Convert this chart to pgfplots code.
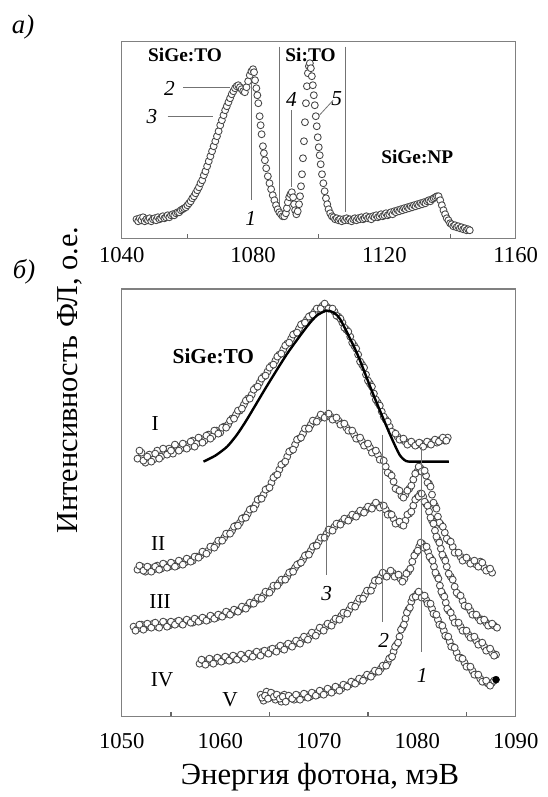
\documentclass[border=0pt]{standalone}
\usepackage{fontspec}
\setmainfont{Liberation Serif}
\usepackage{pgfplots}
\pgfplotsset{compat=1.18}

\pgfplotsset{
  plbox/.style={scale only axis, width=295.5pt,
    axis line style={draw=black!50, line width=1.1pt},
    ytick=\empty, tick align=inside, xtick pos=bottom,
    major tick length=0pt, minor tick length=3.5pt,
    minor tick style={draw=black!60, line width=0.8pt},
    xticklabel style={font=\fontsize{17}{17}\selectfont},
    clip=false},
  pts/.style={only marks, mark=*, mark size=2.6pt,
    mark options={draw=black!72, fill=white, line width=0.65pt}},
}
\tikzset{
  vline/.style={draw=black!55, line width=0.6pt},
  bl/.style={font=\fontsize{14.5}{15}\selectfont\bfseries},
  it/.style={font=\fontsize{16}{16}\selectfont\itshape},
  rn/.style={font=\fontsize{16}{16}\selectfont},
}

\begin{document}
\begin{tikzpicture}
\useasboundingbox (0pt,0pt) rectangle (410.25pt,-597.75pt);

% panel a
\begin{axis}[plbox, at={(91.3pt,-178.7pt)}, anchor=south west, height=147.5pt,
  xmin=1040, xmax=1160, ymin=0, ymax=196.6,
  xtick={1040,1080,1120,1160}, xticklabels={1040,1080,1120,1160},
  minor xtick={1060,1100,1140}, xticklabel style={yshift=-3pt}]
\addplot[pts] coordinates {
(1044.5,19)(1045,17)(1045.5,20)(1046,18)(1046.5,21)(1047,17)(1047.5,19)(1048,18)(1048.5,20)(1049,17)
(1049.5,19)(1050,20)(1050.5,18)(1051,21)(1051.5,19)(1052,20)(1052.5,22)(1053,20)(1053.5,21)(1054,23)
(1054.5,21)(1055,23)(1055.5,24)(1056,23)(1056.5,25)(1057,26)(1057.5,26)(1058,28)(1058.5,29)(1059,30)
(1059.5,31)(1060,33)(1060.5,35)(1061,37)(1061.5,40)(1062,42)(1062.5,45)(1063,48)(1063.5,51)(1064,55)
(1064.5,58)(1065,63)(1065.5,67)(1066,72)(1066.5,77)(1067,82)(1067.5,87)(1068,92)(1068.5,97)(1069,102)
(1069.5,107)(1070,113)(1070.5,118)(1071,123)(1071.5,128)(1072,132)(1072.5,136)(1073,140)(1073.5,144)(1074,147)
(1074.5,150)(1075,152)(1075.5,153)(1076,151)(1076.5,149)(1077,147)(1077.5,146)(1078,151)(1078.5,157)(1079,163)
(1079.5,167)(1080,169)(1080.3,166)(1080.6,158)(1081,150)(1081.3,143)(1081.6,135)(1082,122)(1082.3,113)(1082.6,104)
(1083,92)(1083.3,85)(1083.6,78)(1084,70)(1084.5,62)(1085,55)(1085.5,49)(1086,43)(1086.5,38)(1087,33)
(1087.5,29)(1088,26)(1088.5,24)(1089,22)(1089.5,22)(1090,25)(1090.3,30)(1090.6,36)(1091,41)(1091.4,44)
(1091.8,46)(1092.2,41)(1092.5,34)(1092.8,28)(1093.2,24)(1093.6,27)(1094,34)(1094.3,42)(1094.6,52)(1094.9,64)
(1095.2,80)(1095.5,97)(1095.8,116)(1096.1,135)(1096.4,152)(1096.7,165)(1097,172)(1097.3,175)(1097.6,170)(1097.9,162)
(1098.2,153)(1098.5,143)(1098.8,133)(1099.1,122)(1099.4,112)(1099.7,101)(1100,91)(1100.3,83)(1100.6,74)(1101,64)
(1101.4,55)(1101.8,47)(1102.2,40)(1102.6,34)(1103,29)(1103.5,25)(1104,22)(1104.5,21)(1105,19)(1105.5,20)
(1106,18)(1106.5,19)(1107,17)(1107.5,19)(1108,18)(1108.5,20)(1109,18)(1109.5,19)(1110,17)(1110.5,19)
(1111,20)(1111.5,18)(1112,20)(1112.5,19)(1113,21)(1113.5,19)(1114,20)(1114.5,22)(1115,20)(1115.5,21)
(1116,19)(1116.5,22)(1117,21)(1117.5,23)(1118,21)(1118.5,22)(1119,24)(1119.5,22)(1120,23)(1120.5,25)
(1121,23)(1121.5,24)(1122,26)(1122.5,24)(1123,27)(1123.5,26)(1124,28)(1124.5,27)(1125,29)(1125.5,28)
(1126,30)(1126.5,29)(1127,31)(1127.5,30)(1128,32)(1128.5,31)(1129,33)(1129.5,32)(1130,34)(1130.5,33)
(1131,35)(1131.5,34)(1132,36)(1132.5,35)(1133,37)(1133.5,38)(1134,37)(1134.5,39)(1135,40)(1135.5,41)
(1136,42)(1136.5,42)(1137,38)(1137.5,33)(1138,28)(1138.5,24)(1139,20)(1139.5,18)(1140,15)(1140.5,14)
(1141,12)(1141.5,13)(1142,11)(1142.5,12)(1143,10)(1143.5,11)(1144,9)(1144.5,10)(1145,8)(1145.5,9)(1146,8)
};
\draw[vline] (axis cs:1079.5,158) -- (axis cs:1079.5,38);
\draw[vline] (axis cs:1088,191.6) -- (axis cs:1088,25);
\draw[vline] (axis cs:1108.2,191.6) -- (axis cs:1108.2,26);
\draw[vline] (axis cs:1091.7,128) -- (axis cs:1091.7,51);
\draw[vline] (axis cs:1058.7,151) -- (axis cs:1073.1,151);
\draw[vline] (axis cs:1054,122.3) -- (axis cs:1067.8,122.3);
\draw[vline] (axis cs:1104.4,138) -- (axis cs:1100.2,123);
\node[bl] at (axis cs:1059.3,183.3) {SiGe:TO};
\node[bl] at (axis cs:1097.5,183.3) {Si:TO};
\node[bl] at (axis cs:1130,81.3) {SiGe:NP};
\node[it] at (axis cs:1054.5,150) {2};
\node[it] at (axis cs:1049.2,121.6) {3};
\node[it] at (axis cs:1091.7,138.3) {4};
\node[it] at (axis cs:1105.5,140) {5};
\node[it] at (axis cs:1079.3,20) {1};
\end{axis}

% panel b
\begin{axis}[plbox, at={(91.3pt,-537.5pt)}, anchor=south west, height=320.6pt,
  xmin=1050, xmax=1090, ymin=0, ymax=427.4, clip mode=individual,
  xtick={1050,1060,1070,1080,1090}, xticklabels={1050,1060,1070,1080,1090},
  minor xtick={1055,1065,1075,1085},
  xticklabel style={yshift=-9pt}]
% I
\addplot[pts] coordinates {
(1051.6,258)(1052.0,264)(1052.4,254)(1052.8,262)(1053.2,257)(1053.6,266)(1054.0,260)(1054.4,265)(1054.8,268)(1055.2,263)
(1055.6,270)(1056.0,268)(1056.4,272)(1056.8,270)(1057.2,276)(1057.6,273)(1058.0,278)(1058.4,276)(1058.8,282)(1059.2,280)
(1059.6,286)(1060.0,284)(1060.4,290)(1060.8,292)(1061.2,298)(1061.6,302)(1062.0,306)(1062.4,312)(1062.8,318)(1063.2,322)
(1063.6,329)(1064.0,334)(1064.4,340)(1064.8,345)(1065.2,351)(1065.6,356)(1066.0,362)(1066.4,367)(1066.8,373)(1067.2,378)
(1067.6,383)(1068.0,388)(1068.4,393)(1068.8,397)(1069.2,401)(1069.6,405)(1070.0,408)(1070.4,411)(1070.8,410)(1071.2,408)
(1071.6,405)(1072.0,400)(1072.4,394)(1072.8,387)(1073.2,380)(1073.6,371)(1074.0,362)(1074.4,352)(1074.8,342)(1075.2,333)
(1075.6,323)(1076.0,314)(1076.4,305)(1076.8,297)(1077.2,290)(1077.6,284)(1078.0,280)(1078.4,277)(1078.8,275)(1079.2,274)
(1079.6,273)(1080.0,272)(1080.4,273)(1080.8,272)(1081.2,274)(1081.6,275)(1082.0,274)(1082.4,277)(1082.8,276)(1083.1,279)
(1051.8,266)(1052.2,256)(1052.6,260)(1053.0,255)(1053.4,263)(1053.8,258)(1054.2,268)(1054.6,262)(1055.0,266)(1055.4,272)
(1055.8,266)(1056.2,273)(1056.6,268)(1057.0,275)(1057.4,270)(1057.8,279)(1058.2,274)(1058.6,281)(1059.0,278)(1059.4,286)
(1059.8,283)(1060.2,289)(1060.6,289)(1061.0,296)(1061.4,298)(1061.8,306)(1062.2,308)(1062.6,316)(1063.0,318)(1063.4,327)
(1063.8,330)(1064.2,338)(1064.6,341)(1065.0,349)(1065.4,352)(1065.8,360)(1066.2,363)(1066.6,371)(1067.0,374)(1067.4,382)
(1067.8,384)(1068.2,392)(1068.6,394)(1069.0,400)(1069.4,402)(1069.8,408)(1070.2,408)(1070.6,413)(1071.0,408)(1071.4,408)
(1071.8,401)(1072.2,398)(1072.6,389)(1073.0,385)(1073.4,374)(1073.8,368)(1074.2,355)(1074.6,349)(1075.0,336)(1075.4,330)
(1075.8,317)(1076.2,311)(1076.6,300)(1077.0,295)(1077.4,285)(1077.8,283)(1078.2,277)(1078.6,278)(1079.0,272)(1079.4,275)
(1079.8,271)(1080.2,274)(1080.6,270)(1081.0,275)(1081.4,272)(1081.8,277)(1082.2,275)(1082.6,279)(1082.95,276)
};
% II
\addplot[pts] coordinates {
(1051.6,147)(1052.0,150)(1052.4,145)(1052.8,149)(1053.2,147)(1053.6,151)(1054.0,148)(1054.4,152)(1054.8,150)(1055.2,153)
(1055.6,151)(1056.0,155)(1056.4,154)(1056.8,157)(1057.2,156)(1057.6,160)(1058.0,161)(1058.4,164)(1058.8,166)(1059.2,170)
(1059.6,172)(1060.0,176)(1060.4,179)(1060.8,183)(1061.2,186)(1061.6,191)(1062.0,194)(1062.4,199)(1062.8,203)(1063.2,208)
(1063.6,212)(1064.0,218)(1064.4,222)(1064.8,228)(1065.2,234)(1065.6,241)(1066.0,247)(1066.4,253)(1066.8,260)(1067.2,266)
(1067.6,272)(1068.0,278)(1068.4,283)(1068.8,288)(1069.2,292)(1069.6,295)(1070.0,298)(1070.4,300)(1070.8,301)(1071.2,300)
(1071.6,298)(1072.0,296)(1072.4,293)(1072.8,289)(1073.2,286)(1073.6,282)(1074.0,278)(1074.4,275)(1074.8,272)(1075.2,269)
(1075.6,265)(1076.0,262)(1076.4,257)(1076.8,250)(1077.2,243)(1077.6,235)(1078.0,227)(1078.4,221)(1078.8,222)(1079.2,228)
(1079.6,237)(1080.0,245)(1080.3,249)(1080.6,246)(1080.9,241)(1081.2,233)(1081.5,222)(1081.8,211)(1082.1,200)(1082.4,192)
(1082.8,184)(1083.2,176)(1083.6,170)(1084.0,164)(1084.4,160)(1084.8,158)(1085.2,156)(1085.6,154)(1086.0,152)(1086.4,155)
(1086.8,149)(1087.2,147)(1087.6,144)
(1051.8,151)(1052.2,146)(1052.6,150)(1053.0,145)(1053.4,150)(1053.8,147)(1054.2,153)(1054.6,149)(1055.0,154)(1055.4,150)
(1055.8,156)(1056.2,152)(1056.6,158)(1057.0,155)(1057.4,160)(1057.8,159)(1058.2,165)(1058.6,163)(1059.0,170)(1059.4,169)
(1059.8,176)(1060.2,176)(1060.6,183)(1061.0,183)(1061.4,190)(1061.8,191)(1062.2,198)(1062.6,199)(1063.0,207)(1063.4,208)
(1063.8,217)(1064.2,218)(1064.6,227)(1065.0,229)(1065.4,239)(1065.8,242)(1066.2,252)(1066.6,255)(1067.0,265)(1067.4,267)
(1067.8,277)(1068.2,279)(1068.6,288)(1069.0,288)(1069.4,296)(1069.8,295)(1070.2,302)(1070.6,299)(1071.0,303)(1071.4,297)
(1071.8,299)(1072.2,292)(1072.6,293)(1073.0,286)(1073.4,286)(1073.8,278)(1074.2,279)(1074.6,271)(1075.0,273)(1075.4,264)
(1075.8,266)(1076.2,257)(1076.6,256)(1077.0,244)(1077.4,241)(1077.8,228)(1078.2,226)(1078.6,219)(1079.0,226)(1079.4,231)
(1079.8,243)(1080.15,250)(1080.45,245)(1080.75,246)(1081.05,234)(1081.35,230)(1081.65,214)(1081.95,208)(1082.25,194)(1082.6,190)
(1083.0,178)(1083.4,175)(1083.8,164)(1084.2,164)(1084.6,156)(1085.0,159)(1085.4,153)(1085.8,156)(1086.2,150)(1086.6,154)
(1087.0,146)(1087.4,148)
};
% III
\addplot[pts] coordinates {
(1051.2,90)(1051.6,88)(1052.0,92)(1052.4,89)(1052.8,91)(1053.2,93)(1053.6,90)(1054.0,92)(1054.4,94)(1054.8,91)
(1055.2,93)(1055.6,95)(1056.0,93)(1056.4,95)(1056.8,96)(1057.2,94)(1057.6,97)(1058.0,96)(1058.4,98)(1058.8,97)
(1059.2,100)(1059.6,99)(1060.0,101)(1060.4,102)(1060.8,104)(1061.2,104)(1061.6,106)(1062.0,107)(1062.4,109)(1062.8,111)
(1063.2,113)(1063.6,116)(1064.0,118)(1064.4,121)(1064.8,124)(1065.2,127)(1065.6,131)(1066.0,134)(1066.4,137)(1066.8,140)
(1067.2,145)(1067.6,149)(1068.0,153)(1068.4,157)(1068.8,162)(1069.2,166)(1069.6,171)(1070.0,175)(1070.4,179)(1070.8,183)
(1071.2,187)(1071.6,190)(1072.0,193)(1072.4,195)(1072.8,197)(1073.2,199)(1073.6,201)(1074.0,203)(1074.4,205)(1074.8,207)
(1075.2,209)(1075.6,211)(1076.0,212)(1076.4,211)(1076.8,207)(1077.2,203)(1077.6,198)(1078.0,194)(1078.4,192)(1078.8,196)
(1079.2,203)(1079.6,211)(1080.0,219)(1080.3,223)(1080.6,220)(1080.9,213)(1081.2,205)(1081.5,196)(1081.8,186)(1082.1,177)
(1082.4,168)(1082.7,159)(1083.0,150)(1083.4,140)(1083.8,130)(1084.2,122)(1084.6,116)(1085.0,110)(1085.4,106)(1085.8,102)
(1086.2,99)(1086.6,97)(1087.0,94)(1087.4,92)(1087.8,91)(1088.1,89)
(1051.4,86)(1051.8,92)(1052.2,87)(1052.6,93)(1053.0,89)(1053.4,94)(1053.8,89)(1054.2,95)(1054.6,90)(1055.0,95)
(1055.4,92)(1055.8,96)(1056.2,92)(1056.6,97)(1057.0,94)(1057.4,98)(1057.8,95)(1058.2,99)(1058.6,96)(1059.0,101)
(1059.4,98)(1059.8,102)(1060.2,100)(1060.6,105)(1061.0,102)(1061.4,107)(1061.8,105)(1062.2,110)(1062.6,108)(1063.0,114)
(1063.4,113)(1063.8,119)(1064.2,118)(1064.6,125)(1065.0,124)(1065.4,131)(1065.8,131)(1066.2,137)(1066.6,137)(1067.0,144)
(1067.4,145)(1067.8,152)(1068.2,154)(1068.6,161)(1069.0,162)(1069.4,170)(1069.8,171)(1070.2,179)(1070.6,179)(1071.0,187)
(1071.4,186)(1071.8,193)(1072.2,192)(1072.6,198)(1073.0,196)(1073.4,202)(1073.8,200)(1074.2,206)(1074.6,204)(1075.0,210)
(1075.4,208)(1075.8,214)(1076.2,209)(1076.6,211)(1077.0,202)(1077.4,202)(1077.8,193)(1078.2,195)(1078.6,191)(1079.0,202)
(1079.4,205)(1079.8,217)(1080.15,220)(1080.45,223)(1080.75,215)(1081.05,211)(1081.35,199)(1081.65,193)(1081.95,180)(1082.25,174)
(1082.55,162)(1082.85,156)(1083.2,143)(1083.6,137)(1084.0,124)(1084.4,121)(1084.8,111)(1085.2,110)(1085.6,102)(1086.0,102)
(1086.4,96)(1086.8,97)(1087.2,91)(1087.6,93)
};
% IV
\addplot[pts] coordinates {
(1057.9,53)(1058.3,56)(1058.7,54)(1059.1,57)(1059.5,55)(1059.9,58)(1060.3,56)(1060.7,59)(1061.1,57)(1061.5,60)
(1061.9,59)(1062.3,61)(1062.7,60)(1063.1,62)(1063.5,63)(1063.9,62)(1064.3,65)(1064.7,64)(1065.1,67)(1065.5,66)
(1065.9,69)(1066.3,68)(1066.7,71)(1067.1,72)(1067.5,73)(1067.9,75)(1068.3,77)(1068.7,78)(1069.1,81)(1069.5,83)
(1069.9,85)(1070.3,88)(1070.7,90)(1071.1,92)(1071.5,95)(1071.9,98)(1072.3,101)(1072.7,104)(1073.1,107)(1073.5,111)
(1073.9,114)(1074.3,118)(1074.7,122)(1075.1,126)(1075.5,131)(1075.9,137)(1076.3,140)(1076.7,142)(1077.1,143)(1077.5,144)
(1077.9,141)(1078.3,138)(1078.7,138)(1079.1,145)(1079.5,155)(1079.9,164)(1080.2,170)(1080.5,173)(1080.8,170)(1081.1,165)
(1081.4,158)(1081.7,150)(1082.0,141)(1082.3,131)(1082.6,122)(1082.9,114)(1083.2,106)(1083.6,99)(1084.0,94)(1084.4,90)
(1084.8,86)(1085.2,82)(1085.6,79)(1086.0,76)(1086.4,73)(1086.8,70)(1087.2,67)(1087.6,64)(1088.0,62)
(1058.1,57)(1058.5,52)(1058.9,58)(1059.3,53)(1059.7,59)(1060.1,55)(1060.5,60)(1060.9,56)(1061.3,61)(1061.7,57)
(1062.1,62)(1062.5,58)(1062.9,63)(1063.3,60)(1063.7,65)(1064.1,61)(1064.5,66)(1064.9,63)(1065.3,68)(1065.7,65)
(1066.1,71)(1066.5,67)(1066.9,73)(1067.3,70)(1067.7,76)(1068.1,73)(1068.5,80)(1068.9,77)(1069.3,84)(1069.7,81)
(1070.1,89)(1070.5,86)(1070.9,93)(1071.3,91)(1071.7,98)(1072.1,97)(1072.5,104)(1072.9,103)(1073.3,111)(1073.7,110)
(1074.1,118)(1074.5,118)(1074.9,126)(1075.3,126)(1075.7,136)(1076.1,136)(1076.5,144)(1076.9,140)(1077.3,146)(1077.7,140)
(1078.1,142)(1078.5,135)(1078.9,143)(1079.3,148)(1079.7,161)(1080.05,166)(1080.35,174)(1080.65,169)(1080.95,170)(1081.25,160)
(1081.55,156)(1081.85,144)(1082.15,138)(1082.45,125)(1082.75,120)(1083.05,108)(1083.4,104)(1083.8,94)(1084.2,94)(1084.6,86)
(1085.0,86)(1085.4,79)(1085.8,80)(1086.2,72)(1086.6,74)(1087.0,66)(1087.4,68)(1087.8,61)
};
% V
\addplot[pts] coordinates {
(1064.1,22)(1064.4,16)(1064.7,25)(1065.0,19)(1065.3,23)(1065.6,17)(1065.9,21)(1066.2,15)(1066.5,22)(1066.8,18)
(1067.1,20)(1067.5,17)(1067.9,21)(1068.3,19)(1068.7,22)(1069.1,20)(1069.5,23)(1069.9,22)(1070.3,25)(1070.7,24)
(1071.1,27)(1071.5,26)(1071.9,29)(1072.3,28)(1072.7,31)(1073.1,32)(1073.5,34)(1073.9,35)(1074.3,37)(1074.7,39)
(1075.1,41)(1075.5,43)(1075.9,45)(1076.3,48)(1076.7,51)(1077.0,54)(1077.3,59)(1077.6,65)(1077.9,72)(1078.2,80)
(1078.5,89)(1078.8,98)(1079.1,107)(1079.4,115)(1079.7,120)(1080.0,123)(1080.3,122)(1080.6,120)(1080.9,117)(1081.2,113)
(1081.5,108)(1081.8,102)(1082.1,97)(1082.4,92)(1082.7,86)(1083.0,80)(1083.3,75)(1083.6,70)(1084.0,64)(1084.4,59)
(1084.8,54)(1085.2,50)(1085.6,46)(1086.0,42)(1086.4,38)(1086.8,35)(1087.2,33)(1087.6,34)
(1064.25,19)(1064.55,21)(1064.85,18)(1065.15,24)(1065.45,20)(1065.75,22)(1066.05,18)(1066.35,20)(1066.65,15)(1066.95,21)
(1067.3,18)(1067.7,22)(1068.1,17)(1068.5,23)(1068.9,19)(1069.3,24)(1069.7,21)(1070.1,26)(1070.5,22)(1070.9,28)
(1071.3,24)(1071.7,30)(1072.1,26)(1072.5,32)(1072.9,30)(1073.3,35)(1073.7,33)(1074.1,38)(1074.5,36)(1074.9,42)
(1075.3,40)(1075.7,46)(1076.1,45)(1076.5,51)(1076.85,51)(1077.15,58)(1077.45,60)(1077.75,70)(1078.05,74)(1078.35,87)
(1078.65,92)(1078.95,104)(1079.25,109)(1079.55,119)(1079.85,120)(1080.15,125)(1080.45,119)(1080.75,121)(1081.05,113)(1081.35,113)
(1081.65,103)(1081.95,102)(1082.25,92)(1082.55,91)(1082.85,81)(1083.15,80)(1083.45,70)(1083.8,69)(1084.2,59)(1084.6,58)
(1085.0,50)(1085.4,50)(1085.8,42)(1086.2,42)(1086.6,35)(1087.0,36)(1087.4,31)(1087.8,36)
};
\addplot[only marks, mark=*, mark size=2.6pt, mark options={draw=black, fill=black}] coordinates {(1088.0,37)};
% fit to I, drawn over the points
\addplot[black, line width=1.8pt, smooth, tension=0.4] coordinates {
(1058.3,255)(1059.5,261)(1060.7,270)(1061.7,282)(1062.7,297)(1064.7,330)(1066.8,363)(1068.8,390)(1069.8,401)
(1070.8,406)(1071.5,404)(1072.2,397)(1073.9,363)(1075.5,323)(1077.2,283)(1078.2,262)(1078.9,255.5)(1080,255)(1083.2,255)
};
\draw[vline] (axis cs:1070.8,405) -- (axis cs:1070.8,141.7);
\draw[vline] (axis cs:1076.5,281.7) -- (axis cs:1076.5,95);
\draw[vline] (axis cs:1080.4,270) -- (axis cs:1080.4,65);
\node[it] at (axis cs:1070.8,123.4) {3};
\node[it] at (axis cs:1076.6,76.7) {2};
\node[it] at (axis cs:1080.5,41.7) {1};
\node[bl, font=\fontsize{16}{16}\selectfont\bfseries] at (axis cs:1059.3,360.7) {SiGe:TO};
\node[rn] at (axis cs:1053.4,293.4) {I};
\node[rn] at (axis cs:1053.7,173.4) {II};
\node[rn] at (axis cs:1053.9,115) {III};
\node[rn] at (axis cs:1054.1,36.7) {IV};
\node[rn] at (axis cs:1061.0,16.7) {V};
\end{axis}

\node[font=\fontsize{20}{20}\selectfont\itshape] at (17.3pt,-20pt) {а)};
\node[font=\fontsize{20}{20}\selectfont\itshape] at (18pt,-204pt) {б)};
\node[font=\fontsize{22.8}{23}\selectfont, rotate=90] at (52.5pt,-285pt) {Интенсивность ФЛ, о.е.};
\node[font=\fontsize{23}{23}\selectfont] at (240pt,-583pt) {Энергия фотона, мэВ};
\end{tikzpicture}
\end{document}
